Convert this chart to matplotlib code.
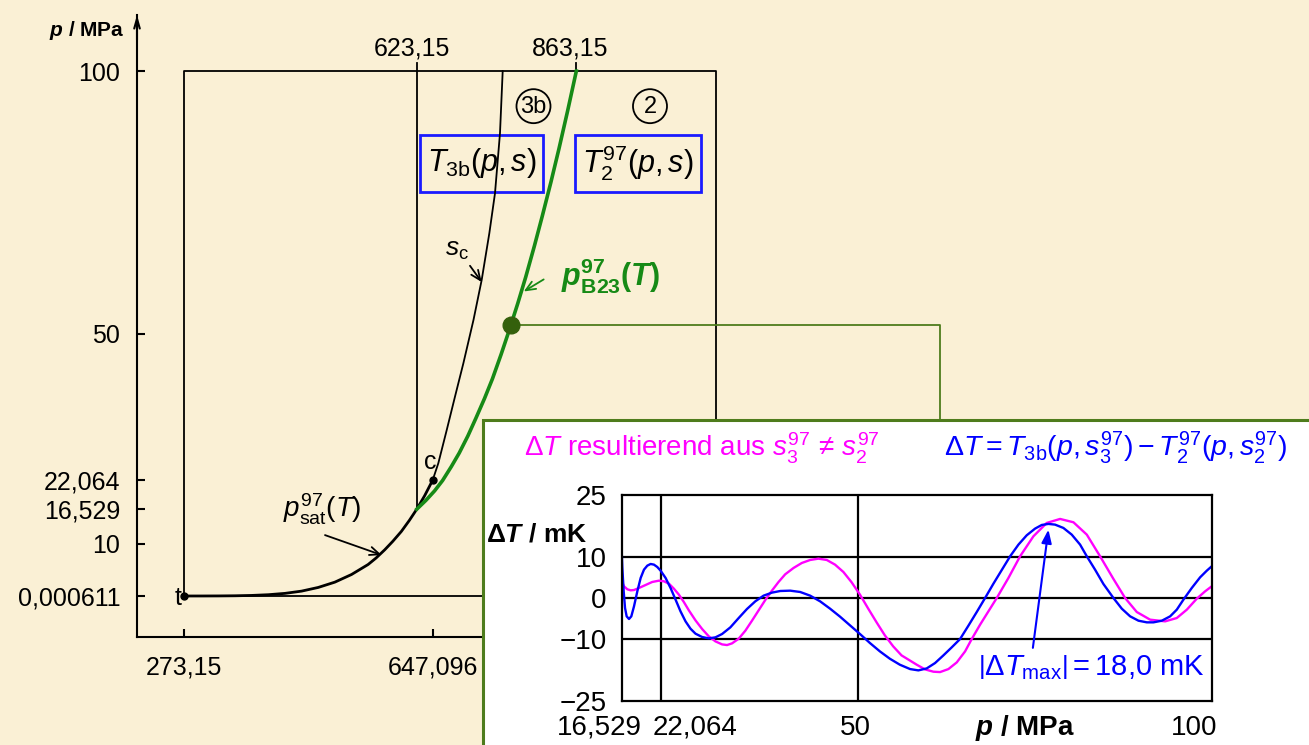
import matplotlib
matplotlib.use('Agg')
import numpy as np
import matplotlib.pyplot as plt
from matplotlib.patches import Rectangle, Ellipse

plt.rcParams['font.family'] = ['Liberation Sans', 'DejaVu Sans']
plt.rcParams['mathtext.fontset'] = 'custom'
plt.rcParams['mathtext.rm'] = 'Liberation Sans'
plt.rcParams['mathtext.it'] = 'Liberation Sans:italic'
plt.rcParams['mathtext.bf'] = 'Liberation Sans:bold'
plt.rcParams['mathtext.bfit'] = 'Liberation Sans:bold:italic'

# --- p-T diagram data (T in K, p in MPa) ---
T_sat = [273.16, 300, 325, 350, 375, 400, 425, 450, 475, 500, 525, 550, 562, 575, 587, 600,
         612, 623.15, 635, 647.096]
p_sat = [0.0006, 0.0035, 0.0135, 0.0417, 0.109, 0.246, 0.50, 0.93, 1.63, 2.64, 4.09, 6.0, 7.24,
         8.8, 10.4, 12.3, 14.4, 16.529, 19.1, 22.064]
T_sc = [647.096, 655.6, 668.2, 680.7, 693.2, 708.5, 720.8, 732.3, 740.8, 748.3, 752.4]
p_sc = [22.064, 25.3, 31.6, 38.0, 44.3, 52.6, 60.2, 69.1, 76.7, 88.1, 100.0]
T_b23 = [623.15, 637, 650, 662, 675, 687, 700, 712, 725, 737, 750, 762, 775, 787, 800, 812,
         825, 837, 850, 863.15]
p_b23 = [16.529, 18.23, 20.03, 22.00, 24.62, 27.23, 30.48, 33.84, 37.61, 41.38, 46.02, 50.55,
         55.70, 60.75, 66.65, 72.40, 78.88, 85.19, 92.39, 100.0]
T_ticks = [273.15, 647.096]
T_tick_labels = ['273,15', '647,096']
p_ticks = [0.000611, 10, 16.529, 22.064, 50, 100]
p_tick_labels = ['0,000611', '10', '16,529', '22,064', '50', '100']
T_min, T_3, T_b23top, T_max = 273.15, 623.15, 863.15, 1073.15
p_t, p_3, p_max = 0.000611, 16.529, 100.0
T_mark, p_mark = 765.0, 51.7

# --- inset data: dT in mK vs p in MPa ---
p_blue = [16.53, 16.62, 16.81, 17.00, 17.23, 17.56, 17.89, 18.27, 18.74, 19.21, 19.68, 20.15,
          20.62, 21.09, 21.56, 22.03, 22.74, 23.44, 24.15, 24.85, 25.56, 26.26, 26.97, 27.91,
          28.85, 29.79, 30.73, 31.90, 33.08, 34.25, 35.43, 36.60, 37.78, 38.96, 40.37, 41.78,
          43.19, 44.60, 46.01, 47.42, 48.83, 50.24, 51.65, 53.06, 54.47, 55.88, 57.33, 58.50,
          59.68, 60.86, 62.04, 63.22, 64.40, 65.58, 66.76, 67.94, 69.12, 70.30, 71.48, 72.66,
          73.83, 75.01, 75.96, 76.90, 77.84, 79.02, 80.20, 81.38, 82.33, 83.50, 84.68, 86.10,
          87.28, 88.46, 89.64, 90.82, 91.76, 92.94, 94.12, 95.06, 96.00, 97.18, 98.36, 99.31,
          100.0]
dT_blue = [11.34, 7.29, 1.62, -2.43, -4.45, -5.10, -4.45, -2.02, 1.62, 4.86, 6.88, 7.85,
           8.26, 8.10, 7.53, 6.64, 4.86, 2.43, -0.40, -3.24, -5.67, -7.45, -8.66, -9.47,
           -9.80, -9.55, -8.74, -7.13, -4.86, -2.67, -0.81, 0.57, 1.30, 1.70, 1.78, 1.46,
           0.57, -0.81, -2.59, -4.53, -6.64, -8.74, -10.93, -12.96, -14.74, -16.19, -17.25, -17.57,
           -17.09, -15.79, -13.93, -11.98, -9.96, -6.72, -3.40, 0.0, 3.48, 6.80, 10.12, 12.96,
           15.22, 16.84, 17.73, 17.98, 17.81, 17.00, 15.38, 12.96, 10.12, 6.88, 3.40, 0.0,
           -2.59, -4.45, -5.51, -5.91, -5.91, -5.51, -4.45, -2.83, -0.40, 2.43, 5.02, 6.64,
           7.69]
p_mag = [16.53, 16.86, 17.33, 17.80, 18.27, 18.97, 19.91, 20.85, 21.80, 22.50, 23.21, 23.91,
         24.62, 25.32, 26.03, 26.97, 27.91, 28.85, 29.79, 30.73, 31.43, 32.14, 33.08, 34.02,
         34.96, 35.90, 36.84, 37.78, 38.72, 39.66, 40.84, 42.01, 43.19, 44.36, 45.54, 46.71,
         47.89, 49.06, 50.24, 51.41, 52.59, 53.76, 54.94, 56.12, 58.27, 59.45, 60.63, 61.57,
         62.75, 63.93, 65.11, 66.05, 67.23, 68.41, 69.59, 71.24, 72.89, 74.78, 76.66, 78.55,
         80.44, 82.33, 84.21, 86.10, 87.75, 89.40, 91.29, 93.41, 95.06, 96.48, 97.89, 99.07,
         100.0]
dT_mag = [4.05, 2.83, 2.11, 1.86, 1.94, 2.43, 3.16, 3.89, 4.21, 4.05, 3.48, 2.27,
          0.81, -0.97, -3.00, -5.43, -7.53, -9.31, -10.53, -11.26, -11.42, -11.01, -9.88, -7.94,
          -5.51, -3.00, -0.49, 1.78, 3.89, 5.75, 7.29, 8.50, 9.23, 9.55, 9.23, 8.10,
          6.32, 3.81, 0.81, -2.59, -5.91, -9.07, -11.74, -13.93, -16.19, -17.33, -17.89, -17.98,
          -17.25, -15.63, -12.96, -9.96, -6.48, -3.24, 0.0, 4.86, 10.12, 14.98, 18.22, 19.19,
          18.38, 15.38, 10.12, 4.62, 0.0, -3.40, -5.26, -5.67, -4.86, -2.83, -0.16, 1.62,
          2.83]
inset_yticks = [-25, -10, 0, 10, 25]
inset_ylabels = ['\u221225', '\u221210', '0', '10', '25']
inset_vlines = [22.064, 50]
dT_max_p = 76.9

bg = '#faf0d5'
green = '#168a16'
olive = '#4e7c1c'
blue = '#0000ff'
magenta = '#ff00ff'

W, H = 1309, 745
fig = plt.figure(figsize=(W / 100, H / 100), dpi=100, facecolor=bg)


def fx(x):
    return x / W


def fy(y):
    return 1 - y / H


# main axes: 0.665 px per K, 5.25 px per MPa
ax = fig.add_axes([fx(137), fy(637), fx(720) - fx(137), fy(15) - fy(637)])
ax.set_facecolor('none')
ax.set_xlim(273.15 - 47 / 0.665, 273.15 + (720 - 184) / 0.665)
ax.set_ylim(-41 / 5.25, 581 / 5.25)
for s in ['top', 'right']:
    ax.spines[s].set_visible(False)
for s in ['left', 'bottom']:
    ax.spines[s].set_linewidth(1.5)
ax.annotate('', xy=(0, 1.0), xytext=(0, 0.96), xycoords='axes fraction',
            arrowprops=dict(arrowstyle='->,head_length=0.7,head_width=0.2', lw=1.5,
                            color='k', shrinkA=0, shrinkB=0))
ax.set_xticks(T_ticks)
ax.set_xticklabels(T_tick_labels)
ax.set_yticks(p_ticks)
ax.set_yticklabels(p_tick_labels)
ax.tick_params(direction='in', length=6, width=1.5, labelsize=18)
ax.tick_params(axis='x', pad=13)
ax.tick_params(axis='y', pad=12)
fig.text(fx(125), fy(30), r'$\mathbfit{p}$ / MPa', fontsize=15, fontweight='bold',
         ha='right', va='center')

# region frame
ax.plot([T_min, T_max, T_max, T_min, T_min], [p_t, p_t, p_max, p_max, p_t], color='k', lw=1.3)
ax.plot([T_3, T_3], [p_3, p_max + 1.6], color='k', lw=1.3)
ax.plot([T_b23top, T_b23top], [p_max, p_max + 1.6], color='k', lw=1.3)
ax.text(616, 104.3, '623,15', fontsize=18, ha='center', va='center')
ax.text(853.6, 104.3, '863,15', fontsize=18, ha='center', va='center')

ax.plot(T_sat, p_sat, color='k', lw=2.0)
ax.plot(T_sc, p_sc, color='k', lw=1.3)
ax.plot(T_b23, p_b23, color=green, lw=2.6)

ax.plot([T_min], [p_t], 'o', color='k', ms=5)
ax.plot([T_sat[-1]], [p_sat[-1]], 'o', color='k', ms=5)
ax.text(269, -0.3, 't', fontsize=18, ha='right', va='center')
ax.text(643, 25.6, 'c', fontsize=18, ha='center', va='center')

# connector to inset
ax.plot([T_mark, 273.15 + (940 - 184) / 0.665, 273.15 + (940 - 184) / 0.665],
        [p_mark, p_mark, (596 - 425) / 5.25], color=olive, lw=1.3, clip_on=False, zorder=3)
ax.plot([T_mark], [p_mark], 'o', color='#34600c', ms=12, zorder=5)

# labels
arw = '->,head_length=0.7,head_width=0.3'
ax.annotate('', xy=(570.4, 7.8), xytext=(485.2, 11.6),
            arrowprops=dict(arrowstyle=arw, lw=1.3, color='k', shrinkA=0, shrinkB=0))
ax.text(480.7, 16.6, r'$p_{\mathrm{sat}}^{97}(T)$', fontsize=20, ha='center', va='center')
ax.annotate('', xy=(720.8, 59.8), xytext=(703.2, 62.9),
            arrowprops=dict(arrowstyle=arw, lw=1.3, color='k', shrinkA=0, shrinkB=0))
ax.text(683.2, 66.0, r'$s_{\mathrm{c}}$', fontsize=19, ha='center', va='center')
ax.annotate('', xy=(784, 58.0), xytext=(814, 60.3),
            arrowprops=dict(arrowstyle=arw, lw=1.3, color=green, shrinkA=0, shrinkB=0))
ax.text(915, 61.0, r'$\mathbfit{p}_{\mathbf{B23}}^{\mathbf{97}}\mathbf{(}\mathbfit{T}\mathbf{)}$',
        fontsize=22, color=green, ha='center', va='center')

for x0, x1 in [(420, 543), (575, 701)]:
    ax.add_patch(Rectangle((273.15 + (x0 - 184) / 0.665, (596 - 192) / 5.25),
                           (x1 - x0) / 0.665, 57 / 5.25, fc='none', ec='#1a1aff', lw=2))
ax.text(720.5, 82.4, r'$T_{\mathrm{3b}}(p, s)$', fontsize=22, ha='center', va='center')
ax.text(955.9, 82.4, r'$T_2^{97}(p, s)$', fontsize=22, ha='center', va='center')
for Tc, lab in [(798.7, '3b'), (973.9, '2')]:
    ax.add_patch(Ellipse((Tc, 93.3), 34 / 0.665, 34 / 5.25, fc='none', ec='k', lw=1.3))
    ax.text(Tc, 93.2, lab, fontsize=17, ha='center', va='center')

# inset frame
fig.add_artist(Rectangle((fx(483), -0.05), 1, fy(420) + 0.05, transform=fig.transFigure,
                         fc='white', ec=olive, lw=2.2, zorder=2))
fig.text(fx(702), fy(448), r'$\Delta T$ resultierend aus $s_3^{97}\,\neq\,s_2^{97}$',
         fontsize=20, color=magenta, ha='center', va='center', zorder=4)
fig.text(fx(1116), fy(448),
         r'$\Delta T = T_{\mathrm{3b}}(p, s_3^{97}) - T_2^{97}(p, s_2^{97})$',
         fontsize=20.5, color=blue, ha='center', va='center', zorder=4)

axi = fig.add_axes([fx(621.7), fy(701), (1211.7 - 621.7) / W, (701 - 495) / H], zorder=3)
axi.set_facecolor('white')
axi.set_xlim(16.529, 100)
axi.set_ylim(-25, 25)
for s in axi.spines.values():
    s.set_linewidth(1.6)
for v in inset_yticks[1:-1]:
    axi.axhline(v, color='k', lw=1.6)
for v in inset_vlines:
    axi.axvline(v, color='k', lw=1.6)
axi.plot(p_mag, dT_mag, color=magenta, lw=1.7)
axi.plot(p_blue, dT_blue, color=blue, lw=1.7)
axi.set_yticks(inset_yticks)
axi.set_yticklabels(inset_ylabels)
axi.set_xticks([])
axi.tick_params(axis='y', length=0, labelsize=20, pad=11)
ylab_y = -25 - 27 / 4.12
for xp, lab in [(13.3, '16,529'), (26.9, '22,064'), (49.6, '50'), (97.5, '100')]:
    axi.text(xp, ylab_y, lab, fontsize=20, ha='center', va='center', clip_on=False)
axi.text(73.6, ylab_y, r'$\mathbfit{p}$ / MPa', fontsize=20, fontweight='bold',
         ha='center', va='center', clip_on=False)
fig.text(fx(537), fy(535), r'$\mathbf{\Delta}\mathbfit{T}$ / mK', fontsize=19,
         fontweight='bold', ha='center', va='center', zorder=4)
axi.annotate('', xy=(dT_max_p, 16.6), xytext=(74.7, -12.1),
             arrowprops=dict(arrowstyle='-|>,head_length=0.8,head_width=0.3', lw=1.5,
                             color=blue, shrinkA=0, shrinkB=0))
axi.text(83.0, -16.9, r'$\left|\Delta T_{\mathrm{max}}\right| = 18{,}0\ \mathrm{mK}$',
         fontsize=21, color=blue, ha='center', va='center')

fig.savefig('out.png', dpi=100, facecolor=bg)
